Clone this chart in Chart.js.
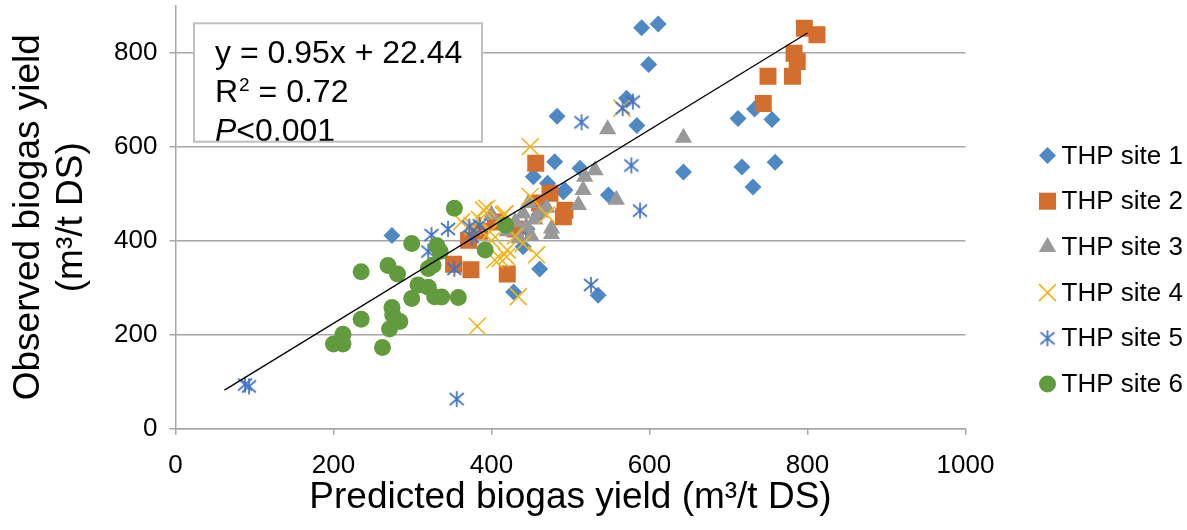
<!DOCTYPE html>
<html>
<head>
<meta charset="utf-8">
<title>Observed vs predicted biogas yield</title>
<script src="https://cdn.jsdelivr.net/npm/chart.js@4.4.1/dist/chart.umd.min.js"></script>
<style>
  html, body { margin: 0; padding: 0; background: #fff; }
  #wrap { position: relative; width: 1187px; height: 530px; }
</style>
</head>
<body>
<div id="wrap"><canvas id="chart"></canvas></div>
<script>
// ── Data ──────────────────────────────────────────────────────
const siteNames = ["THP site 1", "THP site 2", "THP site 3", "THP site 4", "THP site 5", "THP site 6"];

const site1X = [590, 611, 599, 571, 584, 483, 712, 733, 755, 717, 759, 731, 643, 548, 512, 491, 535, 274, 461, 428, 440, 480, 453, 471, 493, 445, 460];
const site1Y = [853, 861, 775, 703, 645, 665, 660, 680, 658, 557, 567, 514, 546, 497, 554, 504, 284, 411, 340, 291, 387, 568, 536, 522, 508, 425, 455];

const site2X = [744, 750, 781, 787, 783, 796, 812, 456, 474, 461, 493, 491, 371, 352, 374, 420, 385, 405, 430];
const site2Y = [692, 750, 750, 781, 799, 852, 838, 565, 501, 480, 465, 451, 401, 350, 338, 329, 420, 440, 425];

const site3X = [547, 643, 531, 518, 516, 510, 558, 476, 440, 400, 447, 444, 476, 430, 455, 420, 435, 462, 470, 450];
const site3Y = [637, 619, 550, 536, 508, 476, 487, 414, 458, 455, 480, 430, 426, 440, 445, 420, 405, 460, 470, 410];

const site4X = [449, 565, 382, 434, 449, 394, 417, 390, 415, 375, 398, 404, 419, 440, 457, 411, 377, 430, 420, 400, 362, 385, 470];
const site4Y = [600, 682, 218, 281, 494, 469, 457, 465, 455, 433, 419, 359, 366, 394, 370, 362, 430, 410, 380, 400, 440, 445, 455];

const site5X = [579, 566, 514, 577, 588, 526, 88, 93, 356, 324, 345, 320, 353, 375, 385, 372];
const site5Y = [696, 682, 652, 560, 464, 306, 94, 90, 63, 412, 425, 377, 340, 408, 433, 430];

const site6X = [353, 299, 235, 269, 281, 331, 335, 320, 326, 307, 320, 328, 337, 358, 299, 274, 275, 284, 271, 235, 212, 200, 212, 262, 392, 418];
const site6Y = [469, 394, 334, 347, 329, 389, 377, 341, 348, 306, 301, 281, 280, 279, 277, 258, 242, 228, 212, 233, 201, 180, 180, 173, 380, 433];

// trendline as drawn (two end points)
const trendX = [62, 800];
const trendY = [82, 842];

const xTicks = [0, 200, 400, 600, 800, 1000];
const yTicks = [0, 200, 400, 600, 800];

const eqText = ["y = 0.95x + 22.44", "R", "2", " = 0.72", "P", "<0.001"];

// ── Styles ────────────────────────────────────────────────────
const FONT = "'Liberation Sans', Arial, sans-serif";
const GRID = "#A6A6A6";
const colors = ["#4E89C3", "#D46E2C", "#999999", "#F0B41E", "#4472C4", "#629B3E"];

// asterisk marker (vertical line + X), as in the original
function makeAsterisk(color) {
  const c = document.createElement("canvas");
  c.width = 18; c.height = 18;
  const g = c.getContext("2d");
  g.strokeStyle = color;
  g.lineWidth = 1.7;
  g.beginPath();
  g.moveTo(9, 1);  g.lineTo(9, 17);
  g.moveTo(2, 3);  g.lineTo(16, 15);
  g.moveTo(16, 3); g.lineTo(2, 15);
  g.stroke();
  return c;
}
const asterisk = makeAsterisk(colors[4]);

const pointStyles = ["rectRot", "rect", "triangle", "crossRot", asterisk, "circle"];
const pointRadii  = [8.5, 12, 10, 12, 9, 8.5];

function zip(xs, ys) {
  return xs.map((x, i) => ({ x: x, y: ys[i] }));
}

const seriesX = [site1X, site2X, site3X, site4X, site5X, site6X];
const seriesY = [site1Y, site2Y, site3Y, site4Y, site5Y, site6Y];

const datasets = siteNames.map((name, i) => {
  const stroked = i === 3;
  return {
    type: "scatter",
    label: name,
    data: zip(seriesX[i], seriesY[i]),
    pointStyle: pointStyles[i],
    pointRadius: pointRadii[i],
    pointHoverRadius: pointRadii[i],
    backgroundColor: colors[i],
    borderColor: colors[i],
    pointBorderWidth: stroked ? 1.6 : 0,
    order: 6 - i
  };
});

datasets.push({
  type: "line",
  label: "trend",
  data: zip(trendX, trendY),
  borderColor: "#000",
  borderWidth: 1.3,
  pointRadius: 0,
  fill: false,
  order: 0
});

// ── Legend on the right ───────────────────────────────────────
function drawMarker(ctx, i, x, y) {
  const c = colors[i];
  ctx.save();
  ctx.fillStyle = c;
  ctx.strokeStyle = c;
  ctx.beginPath();
  if (i === 0) {
    ctx.moveTo(x - 8.5, y); ctx.lineTo(x, y - 8.5); ctx.lineTo(x + 8.5, y); ctx.lineTo(x, y + 8.5);
    ctx.closePath(); ctx.fill();
  } else if (i === 1) {
    ctx.fillRect(x - 8.5, y - 8.5, 17, 17);
  } else if (i === 2) {
    ctx.moveTo(x, y - 10); ctx.lineTo(x + 8.7, y + 5); ctx.lineTo(x - 8.7, y + 5);
    ctx.closePath(); ctx.fill();
  } else if (i === 3) {
    ctx.lineWidth = 1.6;
    ctx.moveTo(x - 8.5, y - 8.5); ctx.lineTo(x + 8.5, y + 8.5);
    ctx.moveTo(x + 8.5, y - 8.5); ctx.lineTo(x - 8.5, y + 8.5);
    ctx.stroke();
  } else if (i === 4) {
    ctx.drawImage(asterisk, x - 9, y - 9);
  } else {
    ctx.arc(x, y, 8.5, 0, Math.PI * 2); ctx.fill();
  }
  ctx.restore();
}

const sideLegend = {
  id: "sideLegend",
  afterDraw(chart) {
    const ctx = chart.ctx;
    const mx = chart.chartArea.right + 82;
    ctx.save();
    ctx.font = "26px " + FONT;
    ctx.fillStyle = "#000";
    ctx.textBaseline = "middle";
    siteNames.forEach((name, i) => {
      const y = 155.5 + i * 45.7;
      drawMarker(ctx, i, mx, y);
      ctx.fillText(name, mx + 14, y + 1);
    });
    ctx.restore();
  }
};

// ── Equation box ──────────────────────────────────────────────
const eqBox = {
  id: "eqBox",
  afterDraw(chart) {
    const ctx = chart.ctx;
    const a = chart.chartArea;
    const bx = a.left + 18.5, by = a.top + 17.6, bw = 288, bh = 118.4;
    ctx.save();
    ctx.fillStyle = "#fff";
    ctx.fillRect(bx, by, bw, bh);
    ctx.beginPath();
    ctx.rect(bx, by, bw, bh);
    ctx.clip();
    ctx.fillStyle = "#000";
    ctx.textBaseline = "alphabetic";
    const tx = bx + 21;
    ctx.font = "32px " + FONT;
    ctx.fillText(eqText[0], tx, by + 40);
    ctx.fillText(eqText[1], tx, by + 79);
    let w = ctx.measureText(eqText[1]).width;
    ctx.font = "19px " + FONT;
    ctx.fillText(eqText[2], tx + w + 1, by + 68);
    w += ctx.measureText(eqText[2]).width + 1;
    ctx.font = "32px " + FONT;
    ctx.fillText(eqText[3], tx + w, by + 79);
    ctx.font = "italic 32px " + FONT;
    ctx.fillText(eqText[4], tx, by + 118);
    const pw = ctx.measureText(eqText[4]).width;
    ctx.font = "32px " + FONT;
    ctx.fillText(eqText[5], tx + pw, by + 118);
    ctx.restore();
    ctx.save();
    ctx.strokeStyle = "#BFBFBF";
    ctx.lineWidth = 2;
    ctx.strokeRect(bx, by, bw, bh);
    ctx.restore();
  }
};

// ── Chart ─────────────────────────────────────────────────────
new Chart(document.getElementById("chart"), {
  data: { datasets: datasets },
  options: {
    responsive: true,
    maintainAspectRatio: false,
    animation: false,
    devicePixelRatio: 1,
    layout: { autoPadding: false, padding: { left: 0, top: 5.7, right: 221.5, bottom: 0 } },
    plugins: {
      legend: { display: false },
      tooltip: { enabled: false }
    },
    scales: {
      x: {
        type: "linear",
        min: xTicks[0],
        max: xTicks[xTicks.length - 1],
        afterBuildTicks: s => { s.ticks = xTicks.map(v => ({ value: v })); },
        afterFit: s => { s.height = 101.3; s.paddingLeft = 0; s.paddingRight = 0; },
        ticks: {
          font: { family: FONT, size: 26 }, color: "#000", padding: 16, maxRotation: 0,
          callback: v => String(v)
        },
        grid: { drawOnChartArea: false, drawTicks: true, tickLength: 6, color: GRID, lineWidth: 1.5 },
        border: { color: GRID, width: 1.5 },
        title: {
          display: true,
          text: "Predicted biogas yield (m³/t DS)",
          font: { family: FONT, size: 37, lineHeight: 1.15 },
          color: "#000",
          padding: { top: 0, bottom: 11 }
        }
      },
      y: {
        type: "linear",
        min: 0,
        max: 900,
        afterBuildTicks: s => { s.ticks = yTicks.map(v => ({ value: v })); },
        afterFit: s => { s.width = 175.5; s.paddingTop = 0; s.paddingBottom = 0; },
        ticks: { font: { family: FONT, size: 26 }, color: "#000", padding: 12, callback: v => String(v) },
        grid: { color: GRID, lineWidth: 1.5, tickLength: 6 },
        border: { color: GRID, width: 1.5 },
        title: {
          display: true,
          text: ["Observed biogas yield", "(m³/t DS)"],
          font: { family: FONT, size: 37, lineHeight: 1.15 },
          color: "#000",
          padding: { top: 8, bottom: 0 }
        }
      }
    }
  },
  plugins: [eqBox, sideLegend]
});
</script>
</body>
</html>
